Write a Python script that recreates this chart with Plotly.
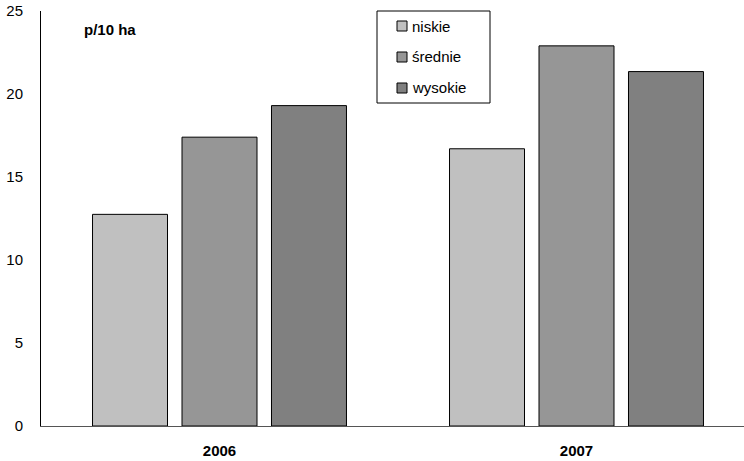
import plotly.graph_objects as go

categories = ["2006", "2007"]
series_names = ["niskie", "średnie", "wysokie"]
niskie = [12.75, 16.7]
srednie = [17.4, 22.9]
wysokie = [19.3, 21.35]
y_ticks = [0, 5, 10, 15, 20, 25]
unit_label = "p/10 ha"

colors = ["#C0C0C0", "#969696", "#808080"]
values = [niskie, srednie, wysokie]

W, H = 744, 461
L, R, T, B = 41, 0, 11, 35
pw, ph = W - L - R, H - T - B

def px(x):
    return (x - L) / pw

def py(y):
    return (H - B - y) / ph

FAM = "Liberation Sans, Arial, sans-serif"

fig = go.Figure()
for name, vals, c in zip(series_names, values, colors):
    fig.add_trace(go.Bar(
        x=[0, 1], y=vals, name=name,
        marker=dict(color=c, line=dict(color="black", width=1)),
        showlegend=False,
    ))

fig.update_layout(
    width=W, height=H,
    margin=dict(l=L, r=R, t=T, b=B, pad=0, autoexpand=False),
    paper_bgcolor="white", plot_bgcolor="white",
    barmode="group", bargap=0.248, bargroupgap=0.162,
    font=dict(family=FAM, size=15, color="black"),
    xaxis=dict(
        range=[-0.5, -0.5 + pw / 357.0],
        tickvals=[0, 1], ticktext=["<b>%s</b>" % c for c in categories],
        tickfont=dict(size=15),
        showline=True, linecolor="#555555", linewidth=1,
        ticks="", showgrid=False, zeroline=False,
        ticklabelstandoff=11, automargin=False,
    ),
    yaxis=dict(
        range=[0, 25], tickvals=y_ticks,
        tickfont=dict(size=15),
        showline=True, linecolor="black", linewidth=1,
        ticks="", showgrid=False, zeroline=False,
        ticklabelstandoff=14, automargin=False,
    ),
)

fig.add_annotation(xref="paper", yref="paper", x=px(110), y=py(30),
                   text="<b>%s</b>" % unit_label, showarrow=False,
                   font=dict(family=FAM, size=15),
                   xanchor="center", yanchor="middle")

# custom legend
fig.add_shape(type="rect", xref="paper", yref="paper",
              x0=px(377), x1=px(490), y0=py(11), y1=py(103),
              line=dict(color="black", width=1), fillcolor="white")
for i, (name, c) in enumerate(zip(series_names, colors)):
    cy = 26 + 31 * i
    fig.add_shape(type="rect", xref="paper", yref="paper",
                  x0=px(397), x1=px(407), y0=py(cy - 5), y1=py(cy + 5),
                  line=dict(color="black", width=1), fillcolor=c)
    fig.add_annotation(xref="paper", yref="paper", x=px(410), y=py(cy),
                       text=name, showarrow=False, xanchor="left", yanchor="middle",
                       font=dict(family=FAM, size=15))

fig.write_html("out.html", config={"displayModeBar": False},
               post_script="document.body.style.margin='0';document.body.style.overflow='hidden';")
